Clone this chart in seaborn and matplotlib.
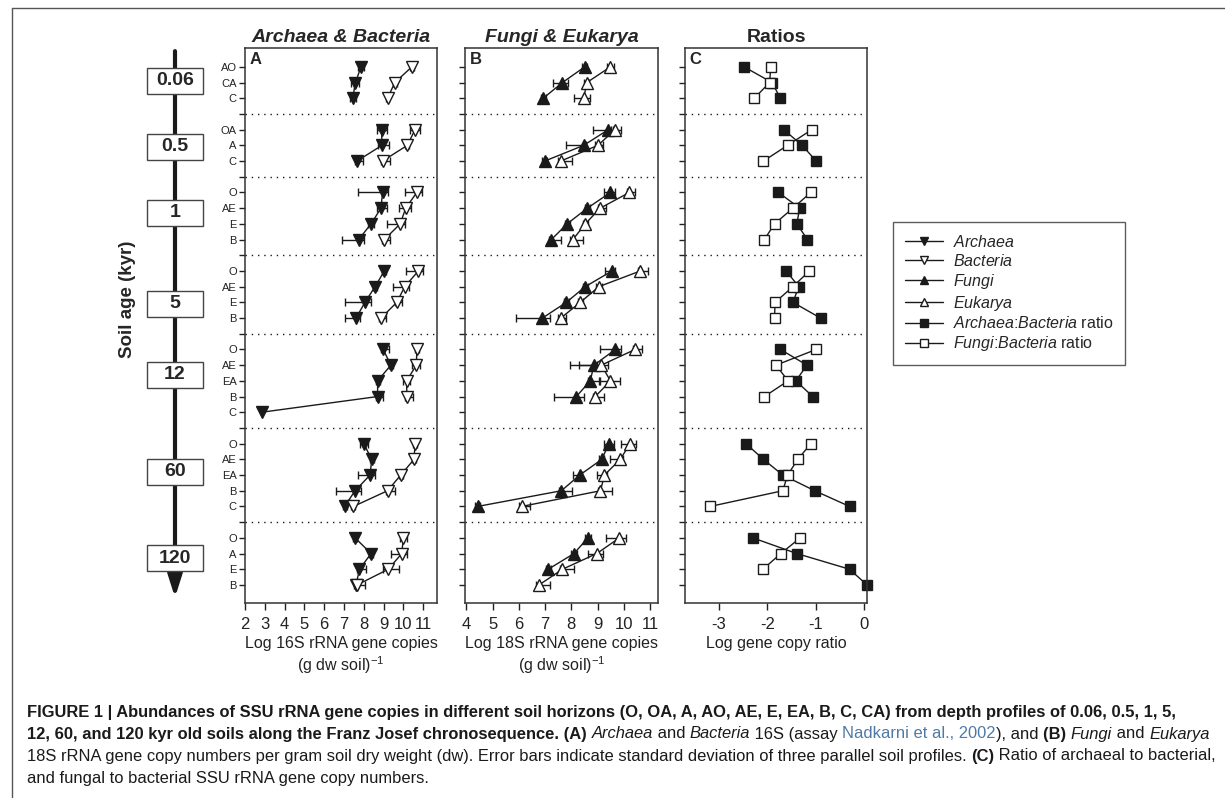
import numpy as np
import pandas as pd
import seaborn as sns
import matplotlib.pyplot as plt
from matplotlib.lines import Line2D
from matplotlib.patches import Rectangle
from matplotlib import font_manager

# --- data ---
ages = ['0.06', '0.5', '1', '5', '12', '60', '120']
horizons = [['AO', 'CA', 'C'], ['OA', 'A', 'C'], ['O', 'AE', 'E', 'B'], ['O', 'AE', 'E', 'B'],
            ['O', 'AE', 'EA', 'B', 'C'], ['O', 'AE', 'EA', 'B', 'C'], ['O', 'A', 'E', 'B']]

nan = np.nan
# panel A: log 16S copies
archaea = [7.86, 7.58, 7.44, 8.90, 8.92, 7.66, 8.95, 8.87, 8.37, 7.74, 9.04, 8.57, 8.06, 7.61,
           8.98, 9.37, 8.70, 8.70, 2.84, 8.00, 8.40, 8.32, 7.56, 7.03, 7.56, 8.37, 7.78, 7.61]
archaea_lo = [0.15, 0.2, 0.15, 0.25, 0.2, 0.1, 1.26, 0.2, 0.15, 0.86, 0.1, 0.1, 0.99, 0.54,
              0.1, 0.1, 0.1, 0.1, 0.0, 0.2, 0.1, 0.62, 0.95, 0.1, 0.1, 0.1, 0.1, 0.1]
archaea_hi = [0.15, 0.2, 0.15, 0.25, 0.35, 0.3, 0.25, 0.3, 0.15, 0.28, 0.1, 0.1, 0.3, 0.2,
              0.3, 0.1, 0.1, 0.28, 0.0, 0.2, 0.1, 0.27, 0.3, 0.1, 0.1, 0.1, 0.33, 0.1]
bacteria = [10.43, 9.57, 9.20, 10.59, 10.20, 8.95, 10.68, 10.12, 9.84, 9.04, 10.76, 10.07, 9.67, 8.87,
            10.68, 10.66, 10.16, 10.18, nan, 10.59, 10.54, 9.87, 9.20, 7.48, 10.00, 9.92, 9.24, 7.66]
bacteria_lo = [0.1, 0.1, 0.1, 0.25, 0.1, 0.1, 0.59, 0.33, 0.67, 0.1, 0.63, 0.58, 0.1, 0.1,
               0.1, 0.2, 0.2, 0.1, nan, 0.1, 0.1, 0.1, 0.1, 0.1, 0.17, 0.55, 0.28, 0.1]
bacteria_hi = [0.1, 0.1, 0.1, 0.25, 0.1, 0.37, 0.28, 0.25, 0.25, 0.3, 0.23, 0.22, 0.28, 0.25,
               0.1, 0.2, 0.2, 0.33, nan, 0.1, 0.1, 0.1, 0.38, 0.1, 0.17, 0.25, 0.52, 0.4]
# panel B: log 18S copies
fungi = [8.51, 7.66, 6.93, 9.41, 8.47, 6.99, 9.49, 8.61, 7.84, 7.24, 9.55, 8.53, 7.81, 6.90,
         9.68, 8.86, 8.72, 8.19, nan, 9.43, 9.16, 8.32, 7.62, 4.43, 8.63, 8.10, 7.12, nan]
fungi_lo = [0.1, 0.35, 0.1, 0.59, 0.68, 0.1, 0.25, 0.1, 0.1, 0.1, 0.27, 0.1, 0.1, 1.01,
            0.57, 0.92, 0.1, 0.86, nan, 0.2, 0.1, 0.25, 0.1, 0.1, 0.1, 0.1, 0.1, nan]
fungi_hi = [0.1, 0.2, 0.1, 0.1, 0.1, 0.1, 0.19, 0.1, 0.1, 0.38, 0.1, 0.1, 0.1, 0.28,
            0.21, 0.1, 0.35, 0.28, nan, 0.2, 0.1, 0.1, 0.4, 0.1, 0.1, 0.1, 0.1, nan]
eukarya = [9.49, 8.59, 8.47, 9.67, 9.01, 7.60, 10.21, 9.10, 8.53, 8.06, 10.63, 9.05, 8.34, 7.60,
           10.43, 9.14, 9.49, 8.91, nan, 10.24, 9.86, 9.26, 9.11, 6.11, 9.83, 8.97, 7.66, 6.77]
eukarya_lo = [0.15, 0.1, 0.37, 0.1, 0.1, 0.1, 0.1, 0.1, 0.1, 0.1, 0.1, 0.1, 0.1, 0.1,
              0.1, 0.85, 0.38, 0.1, nan, 0.34, 0.37, 0.3, 0.1, 0.1, 0.5, 0.32, 0.1, 0.1]
eukarya_hi = [0.15, 0.1, 0.23, 0.23, 0.19, 0.43, 0.23, 0.23, 0.1, 0.4, 0.28, 0.1, 0.1, 0.21,
              0.27, 0.25, 0.38, 0.32, nan, 0.23, 0.1, 0.1, 0.44, 0.32, 0.25, 0.23, 0.43, 0.4]
# panel C: log ratios
ratio_ab = [-2.48, -1.90, -1.73, -1.66, -1.28, -0.99, -1.77, -1.33, -1.39, -1.17, -1.61, -1.35, -1.47, -0.90,
            -1.73, -1.18, -1.41, -1.06, nan, -2.44, -2.08, -1.68, -1.02, -0.30, -2.30, -1.39, -0.30, 0.06]
ratio_fb = [-1.93, -1.95, -2.27, -1.08, -1.58, -2.08, -1.10, -1.47, -1.85, -2.06, -1.13, -1.47, -1.84, -1.85,
            -0.99, -1.82, -1.57, -2.06, nan, -1.10, -1.37, -1.58, -1.68, -3.18, -1.32, -1.72, -2.09, nan]

# where the age boxes sit on the timeline (row units)
age_box_pos = [0.9, 5.1, 9.3, 15.1, 19.6, 25.8, 31.3]

# --- row layout: one row per horizon, an empty row between profiles ---
pos, grp, sep_pos, tick_lab = [], [], [], []
p = 0
for gi, hz in enumerate(horizons):
    for h in hz:
        pos.append(p)
        grp.append(gi)
        tick_lab.append(h)
        p += 1
    if gi < len(horizons) - 1:
        sep_pos.append(p)
        tick_lab.append('')
        p += 1
n_rows = p

sns.set_theme(style="ticks")
plt.rcParams['font.family'] = ['Liberation Sans', 'DejaVu Sans']
plt.rcParams['mathtext.fontset'] = 'custom'
plt.rcParams['mathtext.rm'] = 'Liberation Sans'
plt.rcParams['mathtext.it'] = 'Liberation Sans:italic'
plt.rcParams['mathtext.bf'] = 'Liberation Sans:bold'
plt.rcParams['axes.unicode_minus'] = False

W, H = 1225, 798
fig = plt.figure(figsize=(W / 100, H / 100), dpi=100)
fig.patch.set_facecolor('white')


def px_axes(left, right, top, bottom):
    return fig.add_axes([left / W, 1 - bottom / H, (right - left) / W, (bottom - top) / H])


ax_t = px_axes(100, 235, 48, 603)
axA = px_axes(245, 437, 48, 603)
axB = px_axes(465, 658, 48, 603)
axC = px_axes(685, 867, 48, 603)
ylim = (n_rows + 0.15, -1.2)


def draw_series(ax, vals, lo, hi, marker, face, ms):
    df = pd.DataFrame({'val': vals, 'pos': pos, 'grp': grp})
    if lo is not None:
        ax.errorbar(df['val'], df['pos'], xerr=[lo, hi], fmt='none', ecolor='k',
                    elinewidth=1, capsize=3, capthick=1, zorder=1.5)
    sns.lineplot(data=df.dropna(), x='val', y='pos', units='grp', estimator=None, sort=False,
                 orient='y', color='k', linewidth=1, marker=marker, ms=ms, mfc=face, mec='k',
                 mew=1, clip_on=False, legend=False, ax=ax)


draw_series(axA, archaea, archaea_lo, archaea_hi, 'v', 'k', 8.5)
draw_series(axA, bacteria, bacteria_lo, bacteria_hi, 'v', 'white', 8.5)
draw_series(axB, fungi, fungi_lo, fungi_hi, '^', 'k', 8.5)
draw_series(axB, eukarya, eukarya_lo, eukarya_hi, '^', 'white', 8.5)
draw_series(axC, ratio_ab, None, None, 's', 'k', 6.5)
draw_series(axC, ratio_fb, None, None, 's', 'white', 6.5)

panel_setup = [
    (axA, (2.0, 11.7), list(range(2, 12)), 'A', 'Archaea & Bacteria', 'italic',
     'Log 16S rRNA gene copies\n(g dw soil)$^{-1}$'),
    (axB, (3.95, 11.3), list(range(4, 12)), 'B', 'Fungi & Eukarya', 'italic',
     'Log 18S rRNA gene copies\n(g dw soil)$^{-1}$'),
    (axC, (-3.7, 0.06), [-3, -2, -1, 0], 'C', 'Ratios', 'normal', 'Log gene copy ratio'),
]
for ax, xl, xt, letter, title, tstyle, xlab in panel_setup:
    ax.set_xlim(*xl)
    ax.set_ylim(*ylim)
    ax.set_xticks(xt)
    ax.set_xticklabels([str(v) for v in xt])
    ax.set_yticks(range(n_rows))
    ax.set_yticklabels(tick_lab if ax is axA else [])
    for s in sep_pos:
        ax.axhline(s, color='k', lw=1, ls=(0, (1, 3.5)), zorder=0.5)
    ax.tick_params(axis='y', length=4, width=1, labelsize=8, pad=2, colors='#222')
    ax.tick_params(axis='x', length=5, width=1, labelsize=12, pad=5, colors='#222')
    for sp in ax.spines.values():
        sp.set_visible(True)
        sp.set_linewidth(1.1)
        sp.set_color('#333')
    ax.set_xlabel(xlab, fontsize=11.5, labelpad=3, linespacing=1.2, color='#222')
    ax.set_ylabel('')
    ax.set_title(title, fontsize=14, fontweight='bold', fontstyle=tstyle, pad=4)
    ax.text(0.025, 0.992, letter, transform=ax.transAxes, fontsize=12, fontweight='bold',
            ha='left', va='top')

# --- timeline on the left ---
ax_t.set_xlim(0, 135)
ax_t.set_ylim(*ylim)
ax_t.axis('off')
ax_t.annotate('', xy=(75, n_rows - 0.2), xytext=(75, -1.0),
              arrowprops=dict(arrowstyle='-|>,head_length=1.1,head_width=0.35', lw=3, color='k',
                              shrinkA=0, shrinkB=0))
for age, bp in zip(ages, age_box_pos):
    ax_t.add_patch(Rectangle((47, bp - 0.83), 56, 1.66, facecolor='white', edgecolor='#444',
                             lw=1, zorder=3))
    ax_t.text(75, bp, age, ha='center', va='center', fontsize=14, fontweight='bold', zorder=4)
ax_t.text(28, 14.8, 'Soil age (kyr)', rotation=90, ha='center', va='center', fontsize=13.5,
          fontweight='bold')

# --- legend ---
handles = [
    Line2D([], [], color='k', lw=1, marker='v', ms=6, mfc='k', mec='k'),
    Line2D([], [], color='k', lw=1, marker='v', ms=6, mfc='white', mec='k'),
    Line2D([], [], color='k', lw=1, marker='^', ms=6, mfc='k', mec='k'),
    Line2D([], [], color='k', lw=1, marker='^', ms=6, mfc='white', mec='k'),
    Line2D([], [], color='k', lw=1, marker='s', ms=5.5, mfc='k', mec='k'),
    Line2D([], [], color='k', lw=1, marker='s', ms=5.5, mfc='white', mec='k'),
]
labels = [r'$\it{Archaea}$', r'$\it{Bacteria}$', r'$\it{Fungi}$', r'$\it{Eukarya}$',
          r'$\it{Archaea}$:$\it{Bacteria}$ ratio', r'$\it{Fungi}$:$\it{Bacteria}$ ratio']
leg = fig.legend(handles, labels, loc='upper left', bbox_to_anchor=(893 / W, 1 - 222 / H),
                 frameon=True, fancybox=False, edgecolor='#333', fontsize=11.5,
                 handlelength=2.4, labelspacing=0.18, borderpad=0.75, handletextpad=0.6,
                 borderaxespad=0)
leg.get_frame().set_linewidth(1)

# --- outer frame ---
fig.add_artist(Line2D([12 / W, 12 / W], [0, 1 - 8 / H], transform=fig.transFigure, color='#555', lw=1))
fig.add_artist(Line2D([12 / W, 1], [1 - 8 / H, 1 - 8 / H], transform=fig.transFigure, color='#555', lw=1))

# --- caption ---
try:
    font_manager.findfont(font_manager.FontProperties(family='Liberation Sans Narrow'),
                          fallback_to_default=False)
    cap_family = 'Liberation Sans Narrow'
except Exception:
    cap_family = 'Liberation Sans'

renderer = fig.canvas.get_renderer()
B_, I_, R_ = ('bold', 'normal'), ('normal', 'italic'), ('normal', 'normal')
link = '#4f7aa6'
txt_c = '#1a1a1a'
caption = [
    [('FIGURE 1 | Abundances of SSU rRNA gene copies in different soil horizons (O, OA, A, AO, AE, E, EA, B, C, CA) '
      'from depth profiles of 0.06, 0.5, 1, 5,', B_, txt_c)],
    [('12, 60, and 120 kyr old soils along the Franz Josef chronosequence. (A) ', B_, txt_c),
     ('Archaea', I_, txt_c), (' and ', R_, txt_c), ('Bacteria', I_, txt_c), (' 16S (assay ', R_, txt_c),
     ('Nadkarni et al., 2002', R_, link), ('), and ', R_, txt_c), ('(B) ', B_, txt_c),
     ('Fungi', I_, txt_c), (' and ', R_, txt_c), ('Eukarya', I_, txt_c)],
    [('18S rRNA gene copy numbers per gram soil dry weight (dw). Error bars indicate standard deviation of three '
      'parallel soil profiles. ', R_, txt_c), ('(C)', B_, txt_c),
     (' Ratio of archaeal to bacterial,', R_, txt_c)],
    [('and fungal to bacterial SSU rRNA gene copy numbers.', R_, txt_c)],
]
cap_y = [712, 734, 756, 778]
cap_target = [1173, 1188, 1186, None]


def run_width(s, size, style):
    t = fig.text(0, 0, s + '|', fontsize=size, fontweight=style[0], fontstyle=style[1], family=cap_family)
    t2 = fig.text(0, 0, '|', fontsize=size, fontweight=style[0], fontstyle=style[1], family=cap_family)
    w = t.get_window_extent(renderer).width - t2.get_window_extent(renderer).width
    t.remove()
    t2.remove()
    return w


sizes = []
for line, tw in zip(caption, cap_target):
    if tw is None:
        continue
    wl = sum(run_width(s, 10, st) for s, st, c in line)
    sizes.append(10 * tw / wl)
cap_size = min(sizes)
for line, yy in zip(caption, cap_y):
    x = 27
    for s, st, c in line:
        fig.text(x / W, 1 - yy / H, s, fontsize=cap_size, fontweight=st[0], fontstyle=st[1],
                 color=c, family=cap_family, ha='left', va='center')
        x += run_width(s, cap_size, st)

fig.savefig('out.png', dpi=100, facecolor='white')
